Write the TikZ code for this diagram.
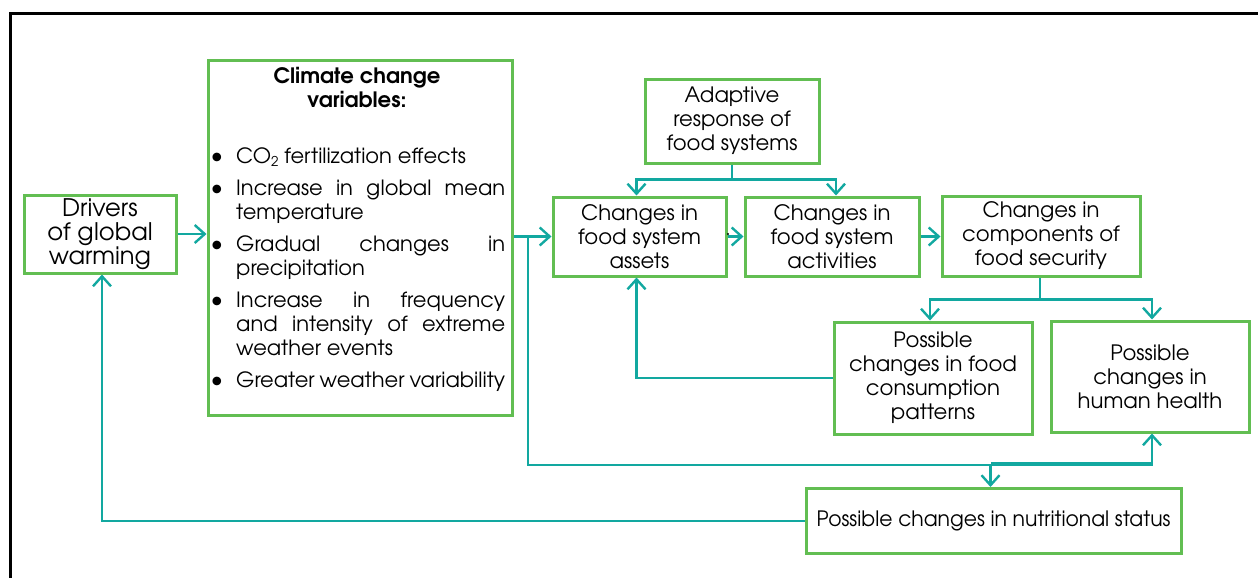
\documentclass[tikz,border=0pt]{standalone}
\usepackage{fontspec}
\setmainfont{texgyreadventor-regular.otf}[BoldFont=texgyreadventor-bold.otf]
\usetikzlibrary{arrows.meta}
\definecolor{boxgreen}{RGB}{98,190,82}
\definecolor{tealc}{RGB}{18,168,160}
\newcommand\jline[1]{\makebox[269pt][s]{#1}}
\tikzset{
  box/.style={draw=boxgreen, line width=3pt, rectangle, inner sep=0pt, align=center,
    font=\fontsize{21.2}{24}\selectfont},
  conn/.style={draw=tealc, line width=2.4pt, -{Straight Barb[length=10pt,width=18pt]}},
  plainline/.style={draw=tealc, line width=2.4pt},
  txt/.style={inner sep=0pt, anchor=base west, font=\fontsize{21}{24}\selectfont},
  bul/.style={inner sep=0pt, anchor=base, font=\fontsize{21}{24}\selectfont},
}
\begin{document}
\begin{tikzpicture}[x=1pt,y=-1pt]
\useasboundingbox (0,0) rectangle (1258,578);
% outer frame
\draw[line width=3pt] (10,620) -- (10,14) -- (1290,14);

% boxes
\node[box, minimum width=152pt, minimum height=78pt, font=\fontsize{24.2}{24}\selectfont] (drivers) at (100,234) {Drivers\\of global\\warming};
\node[box, minimum width=304pt, minimum height=354pt] (climate) at (360,238) {};
\node[box, minimum width=174pt, minimum height=84pt] (adaptive) at (732,121) {Adaptive\\response of\\food systems};
\node[box, minimum width=173pt, minimum height=79pt] (assets) at (639.5,236.5) {Changes in\\food system\\assets};
\node[box, minimum width=174pt, minimum height=79pt] (activities) at (832,236.5) {Changes in\\food system\\activities};
\node[box, minimum width=198pt, minimum height=80pt] (components) at (1041,236) {Changes in\\components of\\food security};
\node[box, minimum width=198pt, minimum height=112pt] (consumption) at (933,378) {Possible\\changes in food\\consumption\\patterns};
\node[box, minimum width=198pt, minimum height=111pt] (health) at (1150,376.5) {Possible\\changes in\\human health};
\node[box, minimum width=375pt, minimum height=65pt] (nutri) at (993.5,521) {\scalebox{0.96}[1]{Possible changes in nutritional status}};

% climate box content
\node[inner sep=0pt, align=center, font=\fontsize{21.2}{24}\selectfont\bfseries] (ctitle) at (357,88) {Climate change\\variables:};
\node[bul] (b1) at (217,163) {\scalebox{1.15}{\textbullet}};
\node[bul] (b2) at (217,195) {\scalebox{1.15}{\textbullet}};
\node[bul] (b3) at (217,251) {\scalebox{1.15}{\textbullet}};
\node[bul] (b4) at (217,307) {\scalebox{1.15}{\textbullet}};
\node[bul] (b5) at (217,387) {\scalebox{1.15}{\textbullet}};
\node[txt] (l1) at (236,163) {CO\raisebox{-3pt}{\fontsize{13.5}{13.5}\selectfont 2} fertilization effects};
\node[txt] (l2) at (236,195) {\jline{Increase in global mean}};
\node[txt] (l3) at (236,219) {temperature};
\node[txt] (l4) at (236,251) {\jline{Gradual changes in}};
\node[txt] (l5) at (236,275) {precipitation};
\node[txt] (l6) at (236,307) {\jline{Increase in frequency}};
\node[txt] (l7) at (236,331) {\jline{and intensity of extreme}};
\node[txt] (l8) at (236,355) {weather events};
\node[txt] (l9) at (236,387) {\jline{Greater weather variability}};

% connectors
\draw[conn] (drivers.east) -- (climate.west |- drivers.east);
\coordinate (br) at (528,237);
\coordinate (hrow) at (0,465);
\draw[conn] (climate.east |- assets.west) -- (assets.west);
\draw[conn] (br) -- (br |- hrow) -| ([xshift=2pt]health.south);
\draw[plainline, line width=4pt] ([xshift=2pt,yshift=1pt]health.south |- hrow) -- ([xshift=-3pt,yshift=1pt]nutri.north |- hrow);
\draw[conn] ([xshift=-3pt]nutri.north |- hrow) -- ([xshift=-3pt]nutri.north);

\draw[plainline] (adaptive.south) -- ++(0,15) coordinate (arow);
\draw[conn] (arow) -| ([xshift=-3pt]assets.north);
\draw[conn] (arow) -| ([xshift=4pt]activities.north);

\draw[conn] (assets.east) -- (activities.west);
\fill (728,234) circle (1.1pt);
\draw[conn] (activities.east) -- (components.west |- activities.east);

\draw[plainline] ([xshift=-1pt]components.south) -- ++(0,22) coordinate (crow);
\draw[conn] (crow) -| ([xshift=-3pt]consumption.north);
\draw[conn] (crow) -| ([xshift=2pt]health.north);

\draw[conn] (consumption.west) -| ([xshift=-3pt]assets.south);
\draw[conn] (nutri.west) -| ([xshift=2pt]drivers.south);
\end{tikzpicture}
\end{document}
